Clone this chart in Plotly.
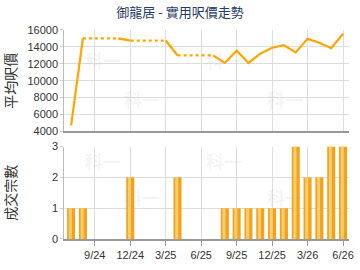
import plotly.graph_objects as go

months = ["7/24", "8/24", "9/24", "10/24", "11/24", "12/24", "1/25", "2/25", "3/25",
          "4/25", "5/25", "6/25", "7/25", "8/25", "9/25", "10/25", "11/25", "12/25",
          "1/26", "2/26", "3/26", "4/26", "5/26", "6/26"]
price = [4700, 15000, None, None, None, 14750, None, None, None,
         13000, None, None, None, 12100, 13550, 12100, 13200, 13900,
         14200, 13350, 14950, 14500, 13850, 15550]
count = [1, 1, 0, 0, 0, 2, 0, 0, 0, 2, 0, 0, 0, 1, 1, 1, 1, 1, 1, 3, 2, 2, 3, 3]
tick_labels = ["9/24", "12/24", "3/25", "6/25", "9/25", "12/25", "3/26", "6/26"]
title_text = "御龍居 - 實用呎價走勢"
y1_title = "平均呎價"
y2_title = "成交宗數"
price_ticks = [4000, 6000, 8000, 10000, 12000, 14000, 16000]
count_ticks = [0, 1, 2, 3]

# carried-forward values for gap months
carried = []
last = None
for v in price:
    if v is not None:
        last = v
    carried.append(last)

n = len(months)
solid = [None] * n
dotted = [None] * n
for i in range(n):
    if price[i] is not None:
        solid[i] = price[i]
    elif i + 1 < n and price[i + 1] is not None:
        solid[i] = carried[i]
for i in range(n):
    if price[i] is None:
        dotted[i] = carried[i]
        if i - 1 >= 0 and price[i - 1] is not None:
            dotted[i - 1] = price[i - 1]

bar_y = [c if c > 0 else None for c in count]

LINE = "#FFA500"
FONT = "Liberation Sans, Arial, sans-serif"
CJK = "Noto Sans CJK TC, sans-serif"

fig = go.Figure()
fig.add_trace(go.Scatter(x=months, y=dotted, mode="lines", connectgaps=False,
                         line=dict(color=LINE, width=2.2, dash="dot"),
                         xaxis="x", yaxis="y", showlegend=False, hoverinfo="skip"))
fig.add_trace(go.Scatter(x=months, y=solid, mode="lines", connectgaps=False,
                         line=dict(color=LINE, width=2.2),
                         xaxis="x", yaxis="y", showlegend=False))

# bars with a simple highlight to mimic gradient
fig.add_trace(go.Bar(x=months, y=bar_y, width=0.68,
                     marker=dict(color="#F2A21E", line=dict(width=0)),
                     xaxis="x2", yaxis="y2", showlegend=False))
fig.add_trace(go.Bar(x=months, y=bar_y, width=0.26, offset=-0.2,
                     marker=dict(color="#FFCD6A", line=dict(width=0)),
                     xaxis="x2", yaxis="y2", showlegend=False, hoverinfo="skip"))

xr = [-0.58, 23.5]
common_x = dict(type="category", categoryorder="array", categoryarray=months, range=xr,
                tickvals=tick_labels, ticktext=tick_labels, showgrid=True,
                gridcolor="#DDDDDD", gridwidth=1, showline=True, linecolor="#999999",
                linewidth=2, zeroline=False, tickfont=dict(family=FONT, size=11, color="#333333"))
fig.update_layout(
    width=360, height=270, margin=dict(l=0, r=0, t=0, b=0),
    paper_bgcolor="white", plot_bgcolor="white", barmode="overlay",
    title=dict(text=title_text, x=0.5, xanchor="center", y=0.955, yanchor="middle",
               font=dict(family=CJK, size=13, color="#1F3B66")),
    xaxis=dict(domain=[0.181, 0.983], anchor="y", showticklabels=False, ticks="", **common_x),
    yaxis=dict(domain=[0.514, 0.907], anchor="x", range=[4000, 16000], tickvals=price_ticks,
               tickformat="d",
               showgrid=True, gridcolor="#DDDDDD", showline=True, linecolor="#BBBBBB", linewidth=1,
               zeroline=False, ticks="outside", ticklen=3, tickcolor="#CCCCCC",
               tickfont=dict(family=FONT, size=11, color="#333333"),
               title=dict(text=y1_title, font=dict(family=CJK, size=14, color="#333333"), standoff=8)),
    xaxis2=dict(domain=[0.181, 0.983], anchor="y2", ticks="outside", ticklen=5, tickcolor="#999999",
                **common_x),
    yaxis2=dict(domain=[0.097, 0.455], anchor="x2", range=[0, 3], tickvals=count_ticks,
                showgrid=True, gridcolor="#DDDDDD", showline=True, linecolor="#BBBBBB", linewidth=1,
                zeroline=False, ticks="outside", ticklen=3, tickcolor="#CCCCCC",
                tickfont=dict(family=FONT, size=11, color="#333333"),
                title=dict(text=y2_title, font=dict(family=CJK, size=14, color="#333333"), standoff=38)),
)

# faint watermarks
for (xp, yp) in [(0.235, 0.85), (0.63, 0.85), (0.40, 0.64), (0.86, 0.64),
                 (0.235, 0.40), (0.63, 0.40), (0.40, 0.20), (0.86, 0.20)]:
    fig.add_annotation(text="<b>科一</b>", x=xp, y=yp, xref="paper", yref="paper", showarrow=False,
                       font=dict(family=CJK, size=18, color="rgba(170,170,170,0.12)"))

fig.write_html("out.html")
